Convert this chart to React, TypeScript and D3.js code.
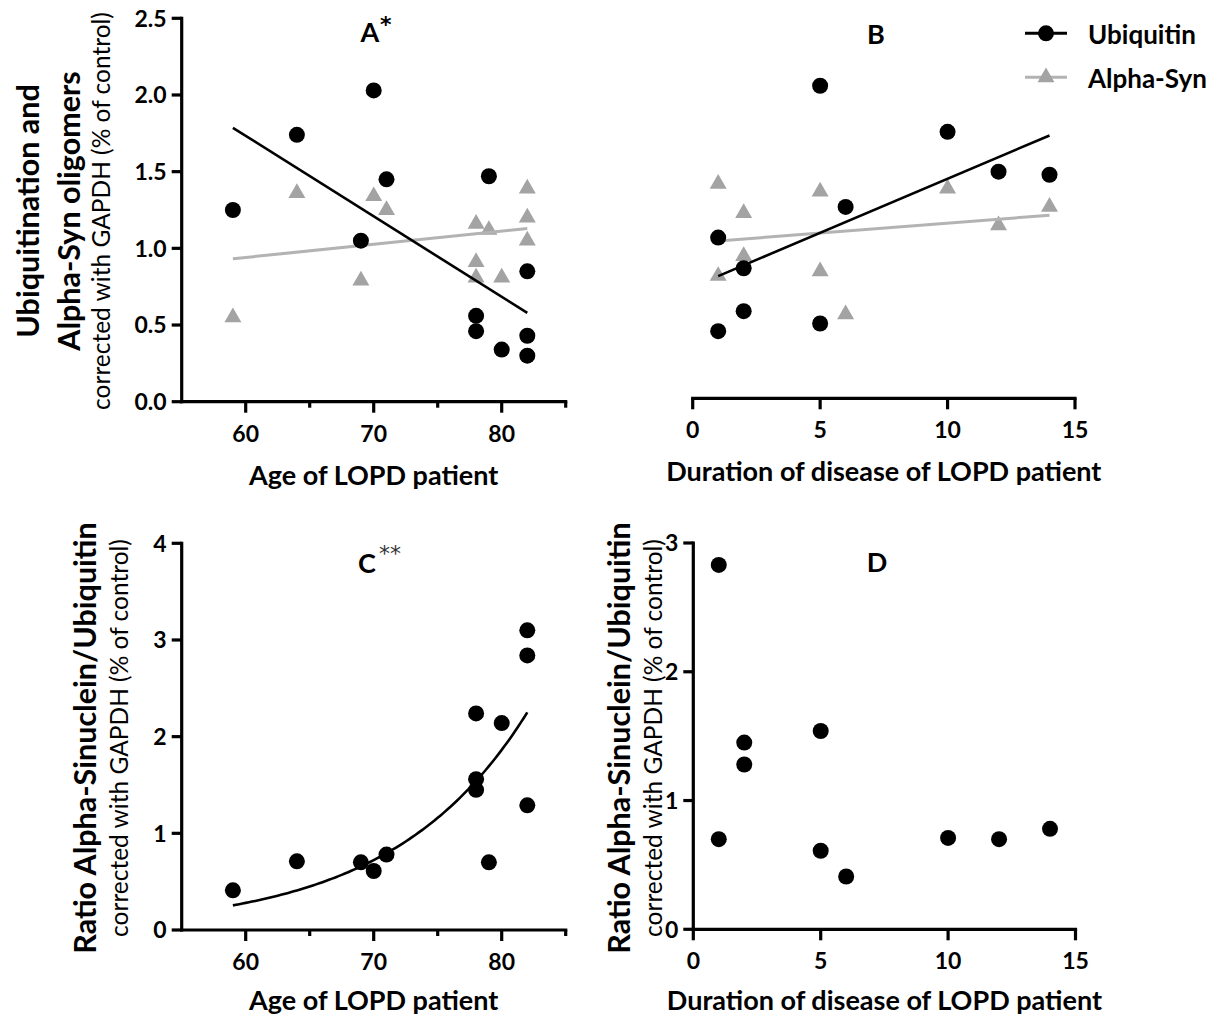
import React, { useEffect, useRef } from "react";
import * as d3 from "d3";

// Panel A: level vs age of LOPD patient
const ageUbq = [59, 64, 69, 70, 71, 78, 78, 79, 80, 82, 82, 82];
const ubqByAge = [1.25, 1.74, 1.05, 2.03, 1.45, 0.56, 0.46, 1.47, 0.34, 0.85, 0.43, 0.3];
const ageSyn = [59, 64, 69, 70, 71, 78, 78, 78, 79, 80, 82, 82, 82];
const synByAge = [0.55, 1.36, 0.79, 1.34, 1.25, 1.16, 0.91, 0.81, 1.12, 0.81, 1.39, 1.2, 1.05];
// regression lines (value at start / end of range)
const fitAgeX = [59, 82];
const fitUbqAge = [1.786, 0.579];
const fitSynAge = [0.932, 1.129];

// Panel B: level vs duration of disease
const durUbq = [1, 1, 2, 2, 5, 5, 6, 10, 12, 14];
const ubqByDur = [1.07, 0.46, 0.87, 0.59, 2.06, 0.51, 1.27, 1.76, 1.5, 1.48];
const durSyn = [1, 1, 2, 2, 5, 5, 6, 10, 12, 14];
const synByDur = [1.42, 0.82, 1.23, 0.95, 1.37, 0.85, 0.57, 1.39, 1.15, 1.27];
const fitDurX = [1, 14];
const fitUbqDur = [0.819, 1.736];
const fitSynDur = [1.048, 1.216];

// Panel C: ratio vs age
const ageRatio = [59, 64, 69, 70, 71, 78, 78, 78, 79, 80, 82, 82, 82];
const ratioByAge = [0.41, 0.71, 0.7, 0.61, 0.78, 2.24, 1.56, 1.45, 0.7, 2.14, 3.1, 2.84, 1.29];
// exponential fit y = a * exp(b * (x - x0))
const expFit = { x0: 59, a: 0.255, b: 0.0947, from: 59, to: 82 };

// Panel D: ratio vs duration
const durRatio = [1, 1, 2, 2, 5, 5, 6, 10, 12, 14];
const ratioByDur = [2.83, 0.7, 1.45, 1.28, 1.54, 0.61, 0.41, 0.71, 0.7, 0.78];

const FONT = "Lato, 'Open Sans', sans-serif";
const GREY = "#a3a3a3";
const GREY_LINE = "#b3b3b3";

const App: React.FC = () => {
  const svgRef = useRef<SVGSVGElement>(null);

  useEffect(() => {
    if (!svgRef.current) return;
    const svg = d3.select(svgRef.current);
    svg.selectAll("*").remove();
    svg.attr("width", 1217).attr("height", 1021).style("font-family", FONT);

    const xAge = d3.scaleLinear().domain([55, 85]).range([181.7, 565.7]);
    const xDur = d3.scaleLinear().domain([0, 15]).range([692.7, 1075]);
    const xDurD = d3.scaleLinear().domain([0, 15]).range([693.3, 1075.5]);
    const yA = d3.scaleLinear().domain([0, 2.5]).range([401.7, 18.3]);
    const yC = d3.scaleLinear().domain([0, 4]).range([930, 543.3]);
    const yD = d3.scaleLinear().domain([0, 3]).range([929.3, 543]);

    const drawYAxis = (
      scale: d3.ScaleLinear<number, number>,
      x: number,
      ticks: number[],
      fmt: (d: number) => string
    ) => {
      const [y0, y1] = scale.range();
      svg
        .append("line")
        .attr("x1", x)
        .attr("x2", x)
        .attr("y1", y0 + 1.5)
        .attr("y2", y1 - 1.5)
        .attr("stroke", "#000")
        .attr("stroke-width", 3.2);
      ticks.forEach((t) => {
        svg
          .append("line")
          .attr("x1", x - 10)
          .attr("x2", x)
          .attr("y1", scale(t))
          .attr("y2", scale(t))
          .attr("stroke", "#000")
          .attr("stroke-width", 3.2);
        svg
          .append("text")
          .attr("x", x - 15)
          .attr("y", scale(t))
          .attr("dy", "0.36em")
          .attr("text-anchor", "end")
          .style("font-size", "23px")
          .style("font-weight", "bold")
          .text(fmt(t));
      });
    };

    const drawXAxis = (
      scale: d3.ScaleLinear<number, number>,
      y: number,
      major: number[],
      minor: number[]
    ) => {
      const [x0, x1] = scale.range();
      svg
        .append("line")
        .attr("x1", x0 - 1.6)
        .attr("x2", x1 + 1.6)
        .attr("y1", y)
        .attr("y2", y)
        .attr("stroke", "#000")
        .attr("stroke-width", 3.2);
      major.forEach((t) => {
        svg
          .append("line")
          .attr("x1", scale(t))
          .attr("x2", scale(t))
          .attr("y1", y)
          .attr("y2", y + 11)
          .attr("stroke", "#000")
          .attr("stroke-width", 3.2);
        svg
          .append("text")
          .attr("x", scale(t))
          .attr("y", y + 40)
          .attr("text-anchor", "middle")
          .style("font-size", "23px")
          .style("font-weight", "bold")
          .text(String(t));
      });
      minor.forEach((t) => {
        svg
          .append("line")
          .attr("x1", scale(t))
          .attr("x2", scale(t))
          .attr("y1", y)
          .attr("y2", y + 6)
          .attr("stroke", "#000")
          .attr("stroke-width", 3.2);
      });
    };

    const vText = (x: number, y: number, txt: string, size: number, bold: boolean) =>
      svg
        .append("text")
        .attr("transform", `translate(${x},${y}) rotate(-90)`)
        .attr("text-anchor", "middle")
        .style("font-size", `${size}px`)
        .style("font-weight", bold ? "bold" : "normal")
        .text(txt);

    const hText = (x: number, y: number, txt: string, size: number, anchor = "middle") =>
      svg
        .append("text")
        .attr("x", x)
        .attr("y", y)
        .attr("text-anchor", anchor)
        .style("font-size", `${size}px`)
        .style("font-weight", "bold")
        .text(txt);

    const circles = (xs: number[], ys: number[], xs_: any, ys_: any) => {
      svg
        .append("g")
        .selectAll("circle")
        .data(xs.map((x, i) => [x, ys[i]]))
        .join("circle")
        .attr("cx", (d) => xs_(d[0]))
        .attr("cy", (d) => ys_(d[1]))
        .attr("r", 8)
        .attr("fill", "#000");
    };

    const tri = d3.symbol().type(d3.symbolTriangle).size(125);
    const triangles = (xs: number[], ys: number[], xs_: any, ys_: any) => {
      svg
        .append("g")
        .selectAll("path")
        .data(xs.map((x, i) => [x, ys[i]]))
        .join("path")
        .attr("d", tri() || "")
        .attr("transform", (d) => `translate(${xs_(d[0])},${ys_(d[1])})`)
        .attr("fill", GREY);
    };

    const fitLine = (xr: number[], yr: number[], xs_: any, ys_: any, color: string, w: number) => {
      svg
        .append("line")
        .attr("x1", xs_(xr[0]))
        .attr("x2", xs_(xr[1]))
        .attr("y1", ys_(yr[0]))
        .attr("y2", ys_(yr[1]))
        .attr("stroke", color)
        .attr("stroke-width", w);
    };

    const star = (x: number, y: number, txt: string, bold: boolean, color: string) =>
      svg
        .append("text")
        .attr("x", x)
        .attr("y", y)
        .style("font-family", "'DejaVu Sans', sans-serif")
        .style("font-size", "22px")
        .style("font-weight", bold ? "bold" : "normal")
        .style("fill", color)
        .text(txt);

    // ---------- Panel A ----------
    drawYAxis(yA, 181.7, [0, 0.5, 1, 1.5, 2, 2.5], (d) => d.toFixed(1));
    drawXAxis(xAge, 401.7, [60, 70, 80], [65, 75, 85]);
    triangles(ageSyn, synByAge, xAge, yA);
    fitLine(fitAgeX, fitSynAge, xAge, yA, GREY_LINE, 3);
    circles(ageUbq, ubqByAge, xAge, yA);
    fitLine(fitAgeX, fitUbqAge, xAge, yA, "#000", 2.6);
    vText(39, 211, "Ubiquitination and", 30.5, true);
    vText(80, 211, "Alpha-Syn oligomers", 30.5, true);
    vText(110, 211, "corrected with GAPDH (% of control)", 24.5, false);
    hText(370, 42, "A", 27);
    star(380, 32, "*", true, "#000");
    hText(xAge(70), 485, "Age of LOPD patient", 27);

    // ---------- Panel B ----------
    drawXAxis(xDur, 398.3, [0, 5, 10, 15], []);
    triangles(durSyn, synByDur, xDur, yA);
    fitLine(fitDurX, fitSynDur, xDur, yA, GREY_LINE, 3);
    circles(durUbq, ubqByDur, xDur, yA);
    fitLine(fitDurX, fitUbqDur, xDur, yA, "#000", 2.6);
    hText(876, 44, "B", 27);
    hText(xDur(7.5), 481, "Duration of disease of LOPD patient", 27);

    // legend
    const legend = svg.append("g");
    legend
      .append("line")
      .attr("x1", 1025)
      .attr("x2", 1067)
      .attr("y1", 33.3)
      .attr("y2", 33.3)
      .attr("stroke", "#000")
      .attr("stroke-width", 3);
    legend.append("circle").attr("cx", 1046).attr("cy", 33.3).attr("r", 8).attr("fill", "#000");
    legend
      .append("line")
      .attr("x1", 1025)
      .attr("x2", 1067)
      .attr("y1", 77.3)
      .attr("y2", 77.3)
      .attr("stroke", GREY_LINE)
      .attr("stroke-width", 3);
    legend
      .append("path")
      .attr("d", tri() || "")
      .attr("transform", "translate(1046,77.3)")
      .attr("fill", GREY);
    hText(1088, 44, "Ubiquitin", 26, "start");
    hText(1088, 88, "Alpha-Syn", 26, "start");

    // ---------- Panel C ----------
    drawYAxis(yC, 181.7, [0, 1, 2, 3, 4], (d) => String(d));
    drawXAxis(xAge.copy(), 930, [60, 70, 80], [65, 75, 85]);
    circles(ageRatio, ratioByAge, xAge, yC);
    const curve = d3
      .range(expFit.from, expFit.to + 0.001, 0.25)
      .map((x) => [x, expFit.a * Math.exp(expFit.b * (x - expFit.x0))] as [number, number]);
    svg
      .append("path")
      .attr(
        "d",
        d3
          .line()
          .x((d) => xAge(d[0]))
          .y((d) => yC(d[1]))(curve) || ""
      )
      .attr("fill", "none")
      .attr("stroke", "#000")
      .attr("stroke-width", 2.6);
    vText(96, 738, "Ratio Alpha-Sinuclein/Ubiquitin", 30.5, true);
    vText(128, 738, "corrected with GAPDH (% of control)", 24.5, false);
    hText(367, 573, "C", 27);
    star(379, 561, "**", false, "#333");
    hText(xAge(70), 1010, "Age of LOPD patient", 27);

    // ---------- Panel D ----------
    drawYAxis(yD, 693.3, [0, 1, 2, 3], (d) => String(d));
    drawXAxis(xDurD, 929.3, [0, 5, 10, 15], []);
    circles(durRatio, ratioByDur, xDurD, yD);
    vText(630, 738, "Ratio Alpha-Sinuclein/Ubiquitin", 30.5, true);
    vText(662, 738, "corrected with GAPDH (% of control)", 24.5, false);
    hText(877, 572, "D", 27);
    hText(xDurD(7.5), 1010, "Duration of disease of LOPD patient", 27);
  }, []);

  return (
    <div style={{ position: "absolute", left: 0, top: 0, background: "#fff" }}>
      <svg ref={svgRef}></svg>
    </div>
  );
};

export default App;
